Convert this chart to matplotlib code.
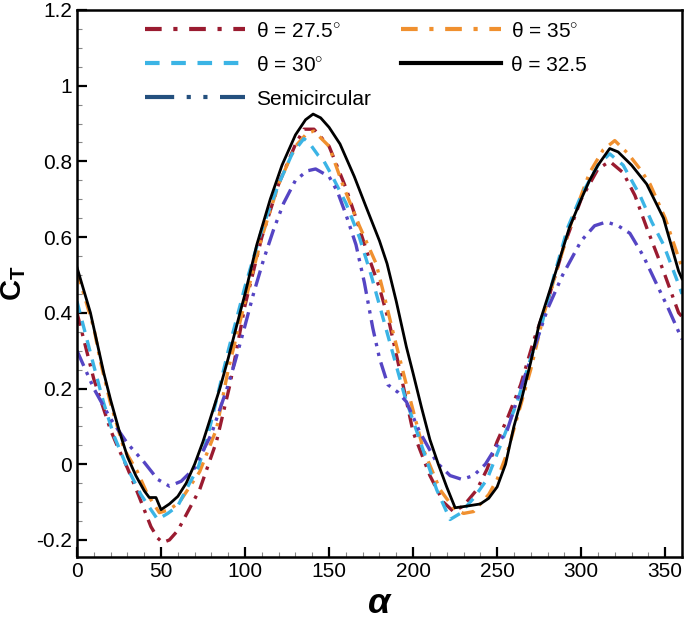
import matplotlib
matplotlib.use("Agg")
import matplotlib.pyplot as plt
from matplotlib.lines import Line2D
from matplotlib.ticker import MultipleLocator

plt.rcParams['font.family'] = ['Liberation Sans', 'DejaVu Sans']
plt.rcParams['mathtext.fontset'] = 'custom'
plt.rcParams['mathtext.rm'] = 'Liberation Sans'
plt.rcParams['mathtext.bf'] = 'Liberation Sans:bold'
plt.rcParams['mathtext.it'] = 'Liberation Sans:italic'

# theta = 32.5 (black solid)
a_325 = [0, 8, 16, 20, 25, 30, 35, 40, 43, 47, 50, 55, 60, 65, 70, 75, 80, 85, 90, 97, 100, 107, 115, 122, 130, 136,
         140.5, 145, 150, 156.5, 165, 172, 180, 184.5, 190, 196, 200, 205, 210, 215, 220, 225, 230, 240, 245, 250,
         255, 260, 265, 270, 275, 280, 285, 293, 300, 305, 310, 317, 322, 330, 339, 349, 358, 360]
c_325 = [0.52, 0.40, 0.24, 0.17, 0.09, 0.02, -0.03, -0.07, -0.088, -0.088, -0.12, -0.105, -0.085, -0.05, 0.0, 0.06,
         0.13, 0.20, 0.28, 0.40, 0.45, 0.58, 0.70, 0.79, 0.87, 0.91, 0.925, 0.915, 0.89, 0.846, 0.76, 0.68, 0.59,
         0.53, 0.43, 0.31, 0.24, 0.15, 0.065, 0.0, -0.06, -0.115, -0.112, -0.105, -0.09, -0.06, 0.0, 0.10, 0.18,
         0.27, 0.37, 0.44, 0.51, 0.625, 0.70, 0.75, 0.79, 0.834, 0.825, 0.79, 0.74, 0.65, 0.51, 0.49]

# theta = 27.5 (dark red dash-dot)
a_275 = [0, 10, 20, 24, 30, 36, 44, 48, 51, 55, 60, 66, 73, 83, 91, 100, 110, 120, 130, 135, 141, 150, 160, 166, 173,
         180, 186, 193, 200, 210, 218, 224, 230, 238, 244, 250, 256, 264, 272, 280, 290, 300, 310, 317, 325, 332, 339,
         349, 358, 360]
c_275 = [0.40, 0.225, 0.09, 0.048, -0.01, -0.075, -0.165, -0.195, -0.207, -0.20, -0.175, -0.125, -0.067, 0.06, 0.21,
         0.42, 0.60, 0.74, 0.845, 0.885, 0.885, 0.84, 0.73, 0.65, 0.555, 0.466, 0.37, 0.23, 0.085, -0.03, -0.10,
         -0.125, -0.11, -0.067, -0.013, 0.06, 0.12, 0.21, 0.33, 0.43, 0.58, 0.70, 0.78, 0.80, 0.77, 0.71, 0.625, 0.51,
         0.40, 0.39]

# theta = 35 (orange dash-dot)
a_35 = [0, 10, 14, 20, 28, 36, 42, 49, 55, 61, 67, 73, 83, 90, 100, 110, 120, 130, 137, 141, 150, 158, 168, 178, 182,
        188, 196, 206, 216, 224, 230, 236, 245, 250, 256, 263, 270, 278, 286, 295, 305, 313, 320, 328, 335, 341, 350,
        358, 360]
c_35 = [0.51, 0.36, 0.27, 0.16, 0.04, -0.02, -0.08, -0.128, -0.12, -0.10, -0.06, -0.02, 0.093, 0.25, 0.43, 0.60, 0.74,
        0.84, 0.875, 0.88, 0.84, 0.74, 0.63, 0.53, 0.46, 0.35, 0.21, 0.04, -0.067, -0.115, -0.13, -0.125, -0.08, -0.04,
        0.03, 0.14, 0.25, 0.40, 0.52, 0.65, 0.77, 0.83, 0.855, 0.82, 0.78, 0.74, 0.65, 0.545, 0.52]

# theta = 30 (light blue dashed)
a_30 = [0, 10, 16, 22, 30, 38, 44, 48, 54, 60, 67, 72, 77, 83, 90, 100, 110, 120, 128, 135, 138, 143.5, 147, 152, 160,
        168, 175, 185, 195, 205, 214, 222, 228, 236, 244, 252, 262, 270, 276, 284, 292, 300, 310, 317, 325, 335, 342,
        349, 358, 360]
c_30 = [0.43, 0.26, 0.16, 0.075, -0.01, -0.08, -0.12, -0.146, -0.13, -0.11, -0.05, -0.01, 0.06, 0.17, 0.30, 0.47, 0.62,
        0.74, 0.82, 0.86, 0.85, 0.816, 0.80, 0.76, 0.69, 0.60, 0.50, 0.34, 0.18, 0.05, -0.067, -0.146, -0.13, -0.09,
        -0.04, 0.05, 0.165, 0.28, 0.36, 0.50, 0.625, 0.71, 0.79, 0.82, 0.79, 0.71, 0.64, 0.58, 0.475, 0.45]

# Semicircular (violet dash-dot-dot)
a_semi = [0, 10, 20, 30, 40, 48, 55, 62, 70, 80, 90, 94, 99, 105, 111, 117, 123, 130, 137, 142, 150, 155, 160, 166,
          171, 176, 180, 185, 191, 196, 204, 214, 222, 229, 236, 243, 250, 256, 270, 280, 289, 300, 308, 315, 322, 329,
          337, 345, 352, 360]
c_semi = [0.30, 0.20, 0.12, 0.055, 0.005, -0.04, -0.058, -0.045, -0.01, 0.08, 0.21, 0.27, 0.35, 0.45, 0.54, 0.62,
          0.69, 0.75, 0.775, 0.78, 0.76, 0.72, 0.66, 0.58, 0.48, 0.36, 0.28, 0.21, 0.19, 0.165, 0.085, 0.005, -0.03,
          -0.04, -0.03, 0.0, 0.05, 0.09, 0.28, 0.41, 0.50, 0.59, 0.63, 0.64, 0.63, 0.61, 0.55, 0.475, 0.41, 0.33]

labels = ['θ = 27.5$^{\\circ}$', 'θ = 30$^{\\circ}$', 'Semicircular', 'θ = 35$^{\\circ}$', 'θ = 32.5']

fig = plt.figure(figsize=(6.85, 6.23), dpi=100)
ax = fig.add_axes([0.1124, 0.106, 0.8832, 0.878])

lw = 2.4
ax.plot(a_275, c_275, color='#9a1b30', lw=lw, dashes=(4, 2.2, 1, 2.2))
ax.plot(a_35, c_35, color='#f0902f', lw=lw, dashes=(4, 2.2, 1, 2.2))
ax.plot(a_30, c_30, color='#3bb4e5', lw=lw, dashes=(3.5, 2.5))
ax.plot(a_semi, c_semi, color='#5545c4', lw=lw, dashes=(5, 2, 1, 2, 1, 2))
ax.plot(a_325, c_325, color='black', lw=2.0)

handles = [
    Line2D([], [], color='#9a1b30', lw=3, dashes=(4, 2.8, 1, 2.8)),
    Line2D([], [], color='#3bb4e5', lw=3, dashes=(3.5, 2.8)),
    Line2D([], [], color='#24507e', lw=3, dashes=(7, 3, 1, 3, 1, 3)),
    Line2D([], [], color='#f0902f', lw=3, dashes=(4, 2.8, 1, 2.8)),
    Line2D([], [], color='black', lw=3),
]
ax.legend(handles, labels, ncol=2, frameon=False, loc='upper left', bbox_to_anchor=(0.082, 1.013),
          fontsize=15, handlelength=4.8, labelspacing=0.72, columnspacing=1.45, handletextpad=0.5)

ax.set_xlim(0, 360)
ax.set_ylim(-0.245, 1.2)
ax.xaxis.set_major_locator(MultipleLocator(50))
ax.xaxis.set_minor_locator(MultipleLocator(10))
ax.yaxis.set_minor_locator(MultipleLocator(0.05))
ax.set_yticks([-0.2, 0, 0.2, 0.4, 0.6, 0.8, 1.0, 1.2])
ax.set_yticklabels(['-0.2', '0', '0.2', '0.4', '0.6', '0.8', '1', '1.2'])
ax.tick_params(which='both', direction='in', top=False, right=False, labelsize=15)
ax.tick_params(which='major', length=7, width=1.6)
ax.tick_params(which='minor', length=3.5, width=0.8, color='#888888')
for s in ax.spines.values():
    s.set_linewidth(1.8)

ax.set_xlabel('α', fontsize=26, fontweight='bold', style='italic', labelpad=4)
ax.set_ylabel(r'$\mathbf{C}_\mathbf{T}$', fontsize=21, labelpad=6)

fig.savefig('out.png', dpi=100)
